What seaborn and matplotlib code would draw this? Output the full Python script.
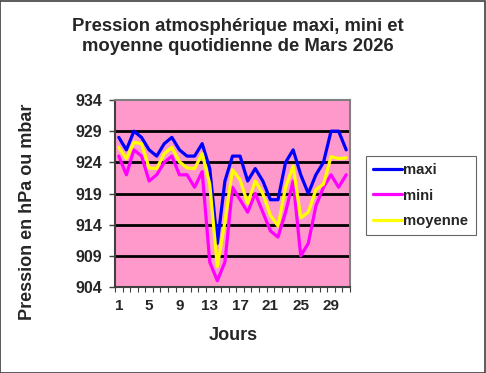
import matplotlib
matplotlib.use("Agg")
import matplotlib.pyplot as plt
import seaborn as sns
import pandas as pd
from matplotlib.patches import Rectangle
from matplotlib.ticker import FixedLocator

days = list(range(1, 32))
maxi = [928, 926, 929, 928, 926, 925, 927, 928, 926, 925, 925, 927, 923, 911, 921, 925,
        925, 921, 923, 921, 918, 918, 924, 926, 922, 919, 922, 924, 929, 929, 926]
mini = [925, 922, 926, 925, 921, 922, 924, 925, 922, 922, 920, 922.5, 908, 905, 908, 920,
        918, 916, 919, 916, 913, 912, 916, 921, 909, 911, 917, 920, 922, 920, 922]
moyenne = [926.4, 924.6, 927.2, 927, 923.1, 923, 925.4, 926.4, 924.1, 923.1, 923, 925.4, 920.5,
           907.3, 914.5, 922.8, 921.2, 917.4, 921, 919, 915.5, 913.8, 920, 923.4, 915.1, 916,
           919.6, 920.5, 924.9, 924.6, 924.7]
series_names = ["maxi", "mini", "moyenne"]
colors = ["#0000FF", "#FF00FF", "#FFFF00"]
y_ticks = [904, 909, 914, 919, 924, 929, 934]
x_labels = [1, 5, 9, 13, 17, 21, 25, 29]

sns.set_style("white")
plt.rcParams["font.family"] = ["Liberation Sans", "DejaVu Sans"]
plt.rcParams["font.weight"] = "bold"

df = pd.DataFrame({
    "Jour": days * 3,
    "Pression": maxi + mini + moyenne,
    "Serie": [n for n in series_names for _ in days],
})

fig = plt.figure(figsize=(4.86, 3.73), dpi=100)
ax = fig.add_axes([115 / 486, 1 - 287 / 373, 235 / 486, 187 / 373])
ax.set_facecolor("#FF99CC")

sns.lineplot(data=df, x="Jour", y="Pression", hue="Serie", palette=colors,
             hue_order=series_names, linewidth=2.3, ax=ax, legend=False, sort=False)

ax.set_xlim(0.5, 31.5)
ax.set_ylim(904, 934)
ax.set_yticks(y_ticks)
ax.set_yticklabels([str(v) for v in y_ticks], fontsize=11.5, fontweight="bold")
ax.set_xticks(x_labels)
ax.set_xticklabels([str(v) for v in x_labels], fontsize=11, fontweight="bold")
ax.xaxis.set_minor_locator(FixedLocator([d + 0.5 for d in range(0, 32)]))
ax.tick_params(axis="x", which="major", length=0, pad=9)
ax.tick_params(axis="x", which="minor", length=3.5, width=0.8, color="#404040", direction="out", bottom=True)
ax.tick_params(axis="y", which="major", length=4, width=1, color="#404040", direction="out", pad=5, left=True)

for v in y_ticks[1:-1]:
    ax.axhline(v, color="black", linewidth=2, zorder=1)
for s in ax.spines.values():
    s.set_color("#808080")
    s.set_linewidth(1.5)
ax.spines["left"].set_color("#404040")
ax.spines["bottom"].set_color("#404040")

ax.set_xlabel("Jours", fontsize=13, fontweight="bold")
ax.xaxis.set_label_coords(0.502, -0.215)
ax.set_ylabel("Pression en hPa ou mbar", fontsize=13, fontweight="bold")
ax.yaxis.set_label_coords(-0.336, 0.40)

fig.text(238 / 486, 1 - 18 / 373, "Pression atmosphérique maxi, mini et\nmoyenne quotidienne de Mars 2026",
         ha="center", va="top", fontsize=13.3, fontweight="bold", linespacing=1.2)

handles = [plt.Line2D([], [], color=c, linewidth=2.3) for c in colors]
leg = fig.legend(handles, series_names, loc="upper left",
                 bbox_to_anchor=(366 / 486, 1 - 156 / 373), fontsize=10.7,
                 frameon=True, fancybox=False, shadow=False, handlelength=1.9,
                 handletextpad=0.1, labelspacing=0.75, borderpad=0.5, borderaxespad=0)
leg.get_frame().set_edgecolor("#404040")
leg.get_frame().set_linewidth(0.8)
for t in leg.get_texts():
    t.set_fontweight("bold")

fig.patches.append(Rectangle((0.001, 0.001), 0.997, 0.997, transform=fig.transFigure,
                             fill=False, edgecolor="#404040", linewidth=1.2))

fig.savefig("out.png", dpi=100)
